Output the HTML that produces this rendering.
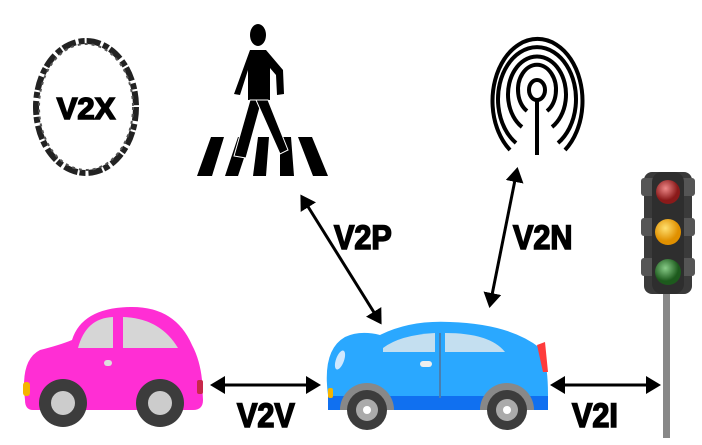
<!DOCTYPE html>
<html><head><meta charset="utf-8"><style>
html,body{margin:0;padding:0;background:#fff;}
svg{display:block}
text{font-family:"Liberation Sans",sans-serif;font-weight:bold;fill:#000;stroke:#000;stroke-width:1.6}
</style></head><body>
<svg width="702" height="445" viewBox="0 0 702 445" xmlns="http://www.w3.org/2000/svg">
<defs>
<marker id="a" markerWidth="6" markerHeight="6" refX="4" refY="3" orient="auto-start-reverse" markerUnits="strokeWidth"><path d="M0,0 L5,3 L0,6 Z" fill="#000"/></marker>
<radialGradient id="r" cx="0.4" cy="0.35"><stop offset="0" stop-color="#e88"/><stop offset="1" stop-color="#8a1a1a"/></radialGradient>
<radialGradient id="y" cx="0.4" cy="0.35"><stop offset="0" stop-color="#ffe070"/><stop offset="1" stop-color="#e09000"/></radialGradient>
<radialGradient id="g" cx="0.4" cy="0.35"><stop offset="0" stop-color="#8c8"/><stop offset="1" stop-color="#1d5a1d"/></radialGradient>
</defs>
<!-- V2X -->
<ellipse cx="86" cy="107" rx="50" ry="66" fill="none" stroke="#222" stroke-width="6" stroke-dasharray="14 3 6 2"/>
<ellipse cx="86" cy="107" rx="47" ry="63" fill="none" stroke="#555" stroke-width="2" stroke-dasharray="3 4"/>
<text x="86" y="119" font-size="31" text-anchor="middle">V2X</text>
<!-- pedestrian -->
<g fill="#000">
<polygon points="211,137 224,137 212,176 197,176"/>
<polygon points="238,137 251,137 238,176 225,176"/>
<polygon points="258,137 269,137 266,176 253,176"/>
<polygon points="280,137 291,137 294,176 280,176"/>
<polygon points="298,137 312,137 328,176 313,176"/>
<ellipse cx="258" cy="35" rx="8" ry="11"/>
<path d="M250,50 L266,50 L283,70 L284,94 L277,95 L276,75 L270,68 L270,100 L248,100 L248,70 L240,95 L234,94 Z"/>
<path d="M250,100 L262,100 L246,158 L234,156 Z" stroke="#fff" stroke-width="1"/>
<path d="M256,100 L268,100 L288,150 L280,154 Z" stroke="#fff" stroke-width="1"/>
</g>
<!-- antenna -->
<g fill="none" stroke="#000" stroke-width="4">
<ellipse cx="537" cy="90" rx="8" ry="10"/>
<path d="M527,111 A19,25 0 1 1 547,111"/>
<path d="M522,127 A29,38 0 1 1 552,127"/>
<path d="M516,143 A39,52 0 1 1 558,143"/>
<path d="M510,150 A45,62 0 1 1 565,150"/>
<line x1="537" y1="100" x2="537" y2="155"/>
</g>
<!-- arrows -->
<g stroke="#000" stroke-width="3" marker-start="url(#a)" marker-end="url(#a)">
<line x1="302" y1="197" x2="380" y2="322"/>
<line x1="517" y1="170" x2="490" y2="305"/>
<line x1="213" y1="385" x2="318" y2="385"/>
<line x1="553" y1="385" x2="658" y2="385"/>
</g>
<text x="334" y="249" font-size="34" transform="translate(334,0) scale(0.9,1) translate(-334,0)">V2P</text>
<text x="513" y="249" font-size="34" transform="translate(513,0) scale(0.9,1) translate(-513,0)">V2N</text>
<text x="237" y="427" font-size="34" transform="translate(237,0) scale(0.9,1) translate(-237,0)">V2V</text>
<text x="572" y="427" font-size="34" transform="translate(572,0) scale(0.9,1) translate(-572,0)">V2I</text>
<!-- traffic light -->
<rect x="663" y="290" width="7" height="148" fill="#888"/>
<rect x="644" y="172" width="48" height="122" rx="8" fill="#3a3a3a"/>
<rect x="641" y="178" width="54" height="18" rx="3" fill="#555"/>
<rect x="641" y="218" width="54" height="18" rx="3" fill="#555"/>
<rect x="641" y="258" width="54" height="18" rx="3" fill="#555"/>
<rect x="652" y="172" width="32" height="122" rx="10" fill="#2e2e2e"/>
<circle cx="668" cy="192" r="12" fill="url(#r)"/>
<circle cx="668" cy="232" r="13" fill="url(#y)"/>
<circle cx="668" cy="272" r="13" fill="url(#g)"/>
<!-- pink car -->
<path d="M25,400 Q20,360 40,350 Q60,345 72,340 Q82,308 130,307 Q175,306 192,345 Q200,360 202,380 L203,400 Q203,410 193,410 L33,410 Q25,410 25,400 Z" fill="#ff2ed4"/>
<path d="M78,348 Q86,318 113,317 L113,348 Z" fill="#d6d6d6"/>
<path d="M123,317 Q160,318 178,348 L123,348 Z" fill="#d6d6d6"/>
<rect x="104" y="360" width="8" height="6" rx="3" fill="#ddd"/>
<rect x="23" y="382" width="7" height="14" rx="3" fill="#f5b400"/>
<rect x="197" y="380" width="6" height="14" rx="2" fill="#c8284a"/>
<circle cx="63" cy="403" r="24" fill="#3c3c3c"/><circle cx="63" cy="403" r="12" fill="#ccc"/>
<circle cx="160" cy="403" r="24" fill="#3c3c3c"/><circle cx="160" cy="403" r="12" fill="#ccc"/>
<!-- blue car -->
<path d="M328,395 Q322,350 345,337 Q360,330 380,335 Q410,320 450,322 Q510,324 540,348 Q548,360 548,395 Q548,410 535,410 L340,410 Q328,410 328,395 Z" fill="#2aa8ff"/>
<rect x="328" y="396" width="220" height="14" fill="#1070f0"/>
<path d="M383,348 Q400,335 435,333 L435,352 L383,352 Z" fill="#c4dff0"/>
<path d="M445,333 Q490,333 505,352 L445,352 Z" fill="#c4dff0"/>
<line x1="440" y1="333" x2="440" y2="398" stroke="#4a7fb0" stroke-width="2"/>
<rect x="420" y="361" width="12" height="6" rx="3" fill="#eee"/>
<path d="M537,345 L545,342 L548,372 L543,372 Z" fill="#ff3b3b"/>
<ellipse cx="340" cy="360" rx="4" ry="10" fill="#cfe8ff" transform="rotate(20 340 360)"/>
<rect x="328" y="388" width="5" height="10" rx="2" fill="#f5b400"/>
<path d="M340,410 A27,27 0 0 1 394,410 Z" fill="#888"/>
<path d="M480,410 A27,27 0 0 1 534,410 Z" fill="#888"/>
<circle cx="367" cy="410" r="20" fill="#3c3c3c"/><circle cx="367" cy="410" r="11" fill="#aaa"/><circle cx="367" cy="410" r="4" fill="#fff"/>
<circle cx="507" cy="410" r="20" fill="#3c3c3c"/><circle cx="507" cy="410" r="11" fill="#aaa"/><circle cx="507" cy="410" r="4" fill="#fff"/>
</svg>
</body></html>
